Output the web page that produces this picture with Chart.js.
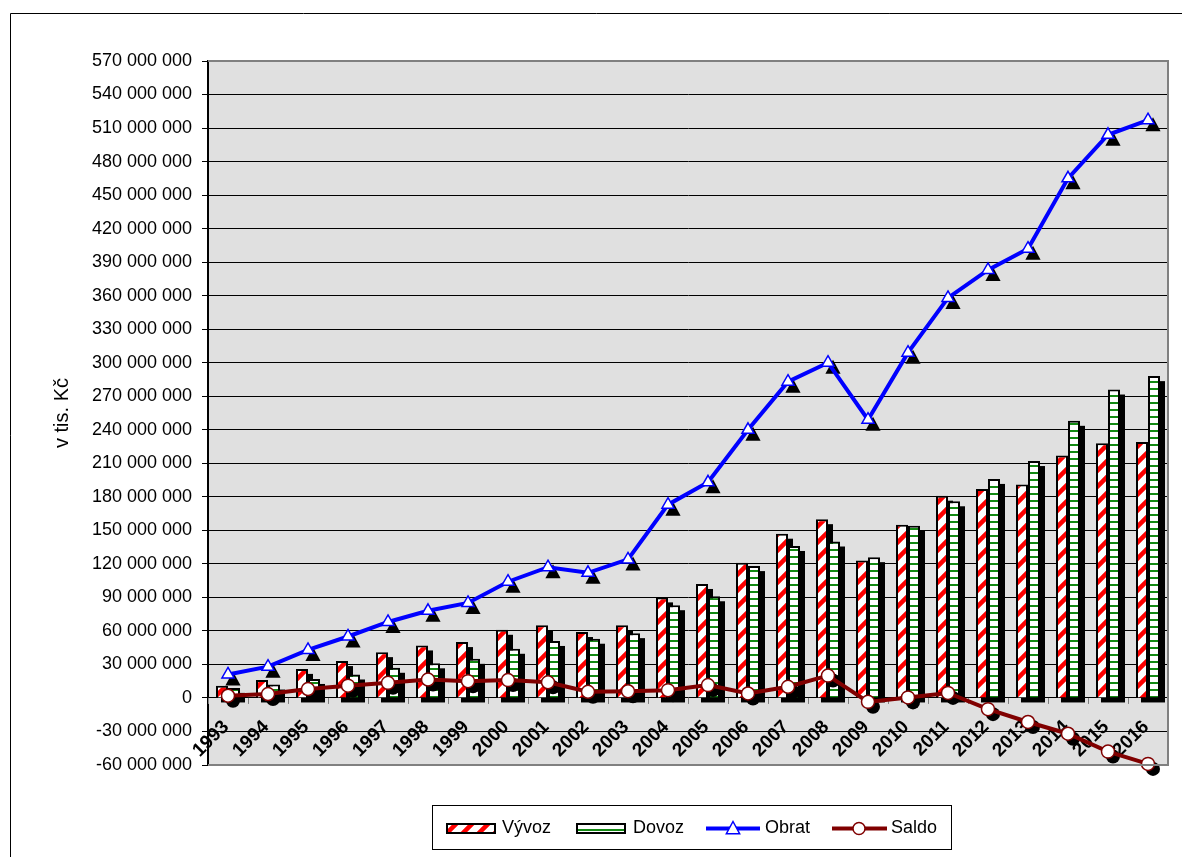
<!DOCTYPE html>
<html><head><meta charset="utf-8">
<script src="https://cdn.jsdelivr.net/npm/chart.js@4/dist/chart.umd.min.js"></script>
<style>html,body{margin:0;padding:0;background:#fff;}canvas{display:block;}</style>
</head><body>
<canvas id="c" width="1182" height="857"></canvas>
<script>
const years = ['1993','1994','1995','1996','1997','1998','1999','2000','2001','2002','2003','2004','2005','2006','2007','2008','2009','2010','2011','2012','2013','2014','2015','2016'];
const vyvoz = [11000000,16000000,26000000,33000000,41000000,47000000,50000000,61000000,65000000,59000000,65000000,90000000,102000000,121000000,147000000,160000000,123000000,155000000,181000000,187000000,191000000,217000000,228000000,229000000];
const dovoz = [9000000,12000000,17000000,21000000,27000000,31000000,35000000,44000000,51000000,53000000,58000000,83000000,91000000,118000000,136000000,140000000,126000000,154000000,176000000,196000000,212000000,248000000,276000000,288000000];
const obrat = [21000000,28000000,43000000,55000000,68000000,78000000,85000000,104000000,117000000,112000000,124000000,173000000,193000000,240000000,283000000,300000000,249000000,309000000,358000000,383000000,402000000,465000000,504000000,517000000];
const saldo = [2000000,3500000,8000000,11000000,13500000,16500000,15000000,16000000,14000000,5500000,6000000,7000000,11500000,4000000,10000000,20000000,-3500000,500000,4500000,-10000000,-21500000,-32000000,-48000000,-59000000];
const yMin = -60000000, yMax = 570000000, yStep = 30000000;
const seriesNames = ['Vývoz','Dovoz','Obrat','Saldo'];
const yTitle = 'v tis. Kč';

const FONT = '"Liberation Sans", Arial, sans-serif';
const RED = '#ff0000', GREEN = '#138a13', BLUE = '#0000ff', MAROON = '#800000';

function stripePattern(){
  const c = document.createElement('canvas'); c.width = 16; c.height = 16;
  const g = c.getContext('2d');
  g.fillStyle = '#fff'; g.fillRect(0,0,16,16);
  g.strokeStyle = RED; g.lineWidth = 4.5;
  g.beginPath();
  g.moveTo(-4,20); g.lineTo(20,-4);
  g.moveTo(-12,12); g.lineTo(12,-12);
  g.moveTo(4,28); g.lineTo(28,4);
  g.stroke();
  return g.createPattern(c,'repeat');
}
function hStripePattern(){
  const c = document.createElement('canvas'); c.width = 4; c.height = 7;
  const g = c.getContext('2d');
  g.fillStyle = '#fff'; g.fillRect(0,0,4,7);
  g.fillStyle = GREEN; g.fillRect(0,3,4,2);
  return g.createPattern(c,'repeat');
}
const patV = stripePattern(), patD = hStripePattern();

function fmt(v){
  const s = Math.abs(v).toString().replace(/\B(?=(\d{3})+(?!\d))/g,' ');
  return (v < 0 ? '-' : '') + s;
}

function tri(ctx, x, y, r){
  ctx.beginPath();
  ctx.moveTo(x, y - r);
  ctx.lineTo(x + r*0.95, y + r*0.75);
  ctx.lineTo(x - r*0.95, y + r*0.75);
  ctx.closePath();
}

const SH = 5;
const fxPlugin = {
  id: 'fx',
  beforeDraw(chart){
    const {ctx, chartArea: a} = chart;
    ctx.save();
    ctx.fillStyle = '#e0e0e0';
    ctx.fillRect(a.left, a.top, a.right - a.left, a.bottom - a.top);
    ctx.restore();
  },
  beforeDatasetsDraw(chart){
    const {ctx, chartArea: a, scales: {x, y}} = chart;
    const y0 = y.getPixelForValue(0);
    ctx.save();
    ctx.strokeStyle = '#808080'; ctx.lineWidth = 1;
    const half = (x.getPixelForValue(1) - x.getPixelForValue(0)) / 2;
    ctx.beginPath();
    for (let i = 0; i <= years.length; i++){
      const px = Math.round(x.getPixelForValue(i) - half) + 0.5;
      ctx.moveTo(px, y0); ctx.lineTo(px, y0 + 6);
    }
    ctx.stroke();
    ctx.fillStyle = '#000';
    ctx.font = 'bold 19px ' + FONT;
    ctx.textAlign = 'right'; ctx.textBaseline = 'middle';
    years.forEach((lab, i) => {
      const px = x.getPixelForValue(i);
      ctx.save();
      ctx.translate(px - 2, y0 + 26);
      ctx.rotate(-Math.PI/4);
      ctx.fillText(lab, 0, 0);
      ctx.restore();
    });
    ctx.fillStyle = '#000';
    chart.data.datasets.forEach((ds, di) => {
      if (ds.type !== 'bar') return;
      chart.getDatasetMeta(di).data.forEach(b => {
        const l = b.x - b.width/2, t = Math.min(b.y, b.base), h = Math.abs(b.base - b.y);
        ctx.fillRect(l + SH, t + SH, b.width, h);
      });
    });
    ctx.restore();
  },
  beforeDatasetDraw(chart, args){
    const ctx = chart.ctx;
    const ds = chart.data.datasets[args.index];
    if (ds.type === 'line'){
      ctx.save();
      ctx.fillStyle = '#000';
      args.meta.data.forEach(p => {
        if (ds.pointStyle === 'triangle'){ tri(ctx, p.x + SH, p.y + SH, 8); ctx.fill(); }
        else { ctx.beginPath(); ctx.arc(p.x + SH, p.y + SH, 7, 0, Math.PI*2); ctx.fill(); }
      });
      ctx.restore();
    }
  },
  afterDraw(chart){
    const {ctx, chartArea: a} = chart;
    ctx.save();
    ctx.strokeStyle = '#808080'; ctx.lineWidth = 2;
    ctx.beginPath();
    ctx.moveTo(a.left, a.top); ctx.lineTo(a.right, a.top); ctx.lineTo(a.right, a.bottom); ctx.lineTo(a.left, a.bottom);
    ctx.stroke();
    ctx.strokeStyle = '#000'; ctx.lineWidth = 1;
    ctx.beginPath(); ctx.moveTo(10.5, 857); ctx.lineTo(10.5, 13.5); ctx.lineTo(1182, 13.5); ctx.stroke();
    ctx.strokeRect(432.5, 805.5, 519, 44);
    const cy = 828.5;
    ctx.lineWidth = 2; ctx.strokeStyle = '#000';
    ctx.fillStyle = patV; ctx.fillRect(446, 823, 50, 11); ctx.strokeRect(447, 824, 48, 9);
    ctx.fillStyle = patD; ctx.fillRect(576, 823, 50, 11); ctx.strokeRect(577, 824, 48, 9);
    ctx.lineWidth = 4;
    ctx.strokeStyle = BLUE; ctx.beginPath(); ctx.moveTo(706, cy); ctx.lineTo(760, cy); ctx.stroke();
    ctx.lineWidth = 1.5; ctx.fillStyle = '#fff'; tri(ctx, 733, cy, 7); ctx.fill(); ctx.stroke();
    ctx.lineWidth = 4;
    ctx.strokeStyle = MAROON; ctx.beginPath(); ctx.moveTo(832, cy); ctx.lineTo(887, cy); ctx.stroke();
    ctx.lineWidth = 1.5; ctx.beginPath(); ctx.arc(859, cy, 6, 0, Math.PI*2); ctx.fill(); ctx.stroke();
    ctx.fillStyle = '#000'; ctx.font = '18px ' + FONT; ctx.textBaseline = 'middle'; ctx.textAlign = 'left';
    ctx.fillText(seriesNames[0], 502, cy);
    ctx.fillText(seriesNames[1], 633, cy);
    ctx.fillText(seriesNames[2], 765, cy);
    ctx.fillText(seriesNames[3], 891, cy);
    ctx.restore();
  }
};

new Chart(document.getElementById('c'), {
  data: {
    labels: years,
    datasets: [
      { type: 'line', label: seriesNames[2], data: obrat, order: 0, borderColor: BLUE, borderWidth: 4,
        pointStyle: 'triangle', pointRadius: 7, pointBackgroundColor: '#fff', pointBorderColor: BLUE, pointBorderWidth: 1.5,
        tension: 0, clip: false },
      { type: 'line', label: seriesNames[3], data: saldo, order: 1, borderColor: MAROON, borderWidth: 4,
        pointStyle: 'circle', pointRadius: 6.5, pointBackgroundColor: '#fff', pointBorderColor: MAROON, pointBorderWidth: 1.5,
        tension: 0, clip: false },
      { type: 'bar', label: seriesNames[0], data: vyvoz, order: 2, backgroundColor: patV, borderColor: '#000', borderWidth: 2,
        barPercentage: 1, categoryPercentage: 0.6 },
      { type: 'bar', label: seriesNames[1], data: dovoz, order: 3, backgroundColor: patD, borderColor: '#000', borderWidth: 2,
        barPercentage: 1, categoryPercentage: 0.6 }
    ]
  },
  options: {
    responsive: false, animation: false,
    layout: { padding: { left: 0, top: 61, right: 14, bottom: 92 } },
    plugins: { legend: { display: false }, tooltip: { enabled: false } },
    scales: {
      y: {
        min: yMin, max: yMax,
        ticks: { stepSize: yStep, color: '#000', font: { family: FONT, size: 18 }, padding: 10, callback: v => fmt(v) },
        grid: { color: '#000', lineWidth: 1, tickLength: 6, drawTicks: true },
        border: { display: true, color: '#000', width: 2 },
        title: { display: true, text: yTitle, color: '#000', font: { family: FONT, size: 20 }, padding: { top: 50, bottom: 0 } },
        afterFit: s => { s.width = 208; }
      },
      x: {
        display: false
      }
    }
  },
  plugins: [fxPlugin]
});
</script>
</body></html>
